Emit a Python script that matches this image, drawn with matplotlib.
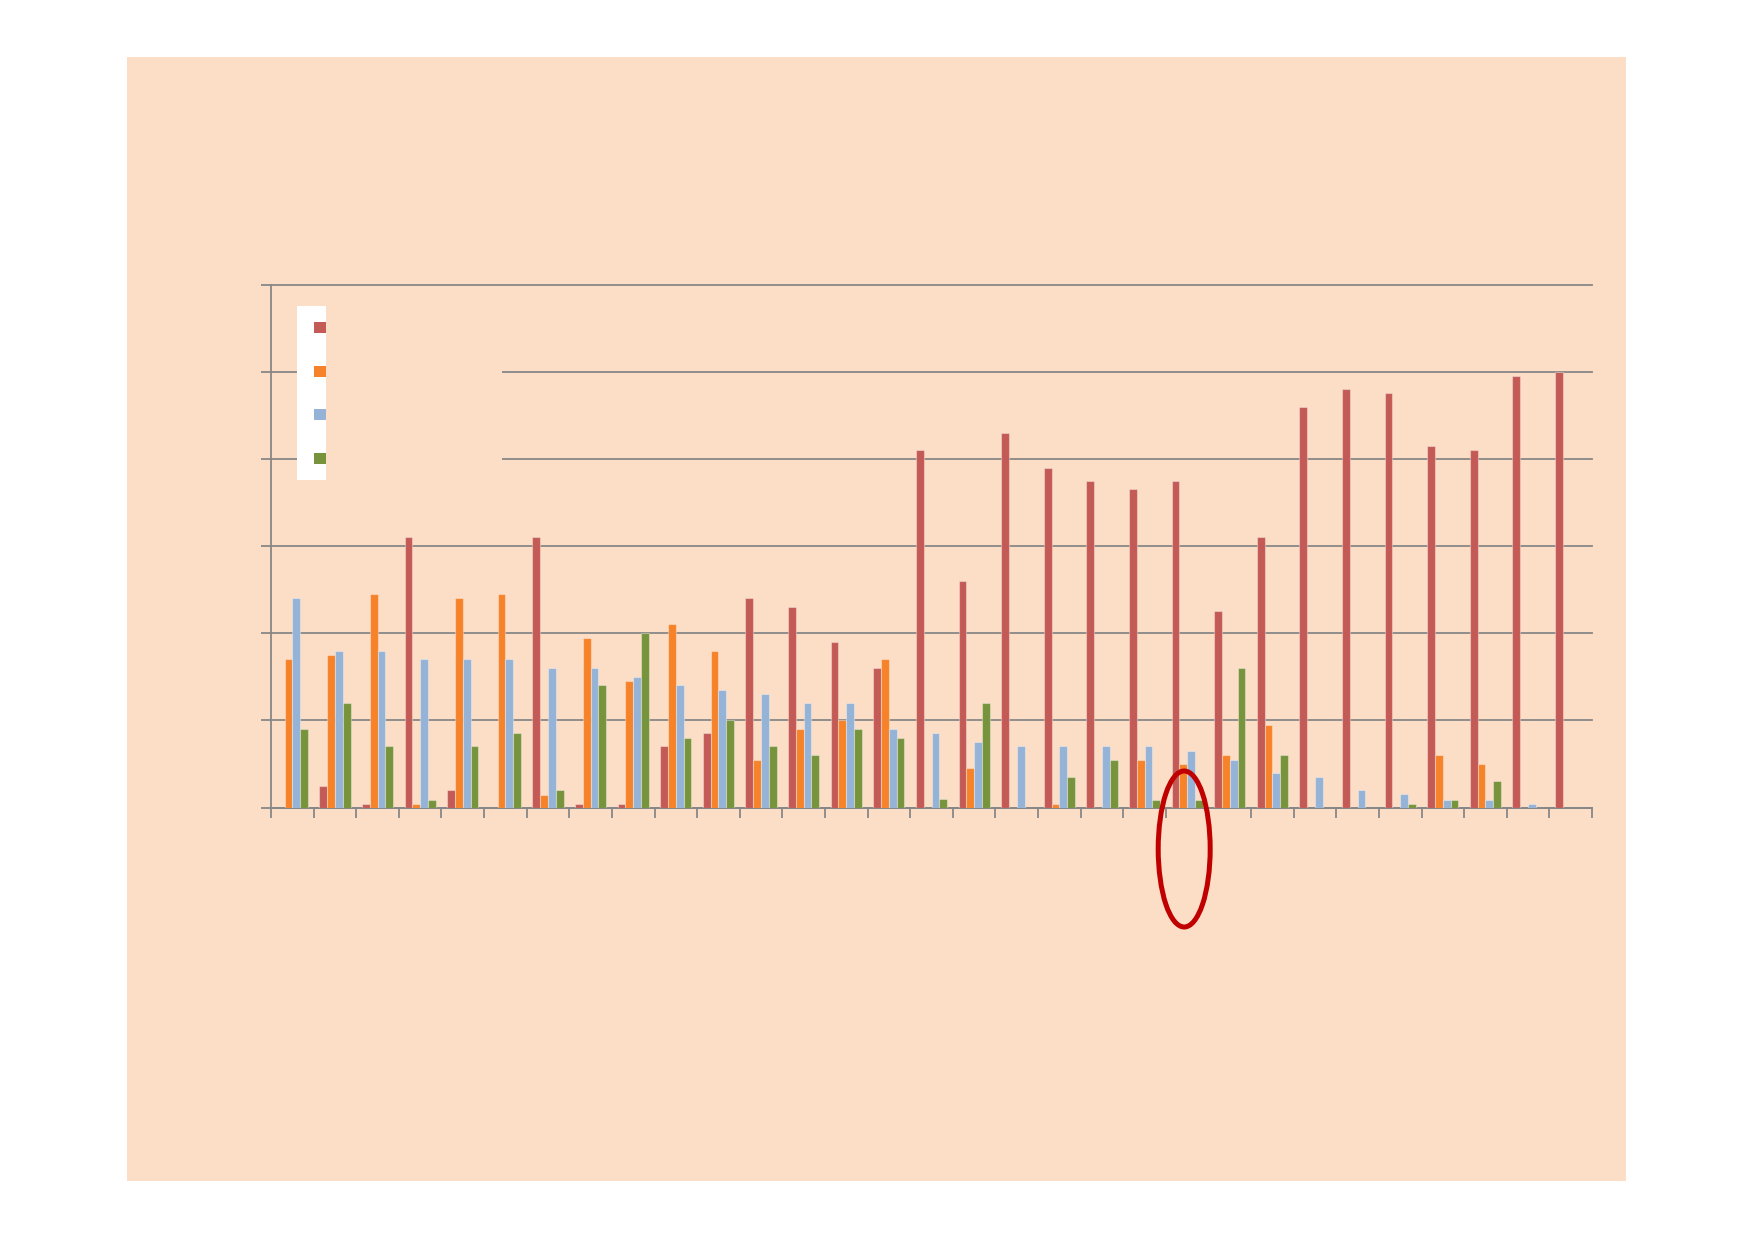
import numpy as np
import matplotlib
matplotlib.use('Agg')
import matplotlib.pyplot as plt
from matplotlib.patches import Rectangle, Ellipse

# 31 categories, 4 series
categories = list(range(1, 32))
red = [0, 0.25, 0.04, 3.10, 0.20, 0, 3.10, 0.04, 0.04, 0.70, 0.85, 2.40, 2.30, 1.90, 1.60,
       4.10, 2.60, 4.30, 3.90, 3.75, 3.65, 3.75, 2.25, 3.10, 4.60, 4.80, 4.75, 4.15, 4.10, 4.95, 5.00]
orange = [1.70, 1.75, 2.45, 0.04, 2.40, 2.45, 0.14, 1.95, 1.45, 2.10, 1.80, 0.55, 0.90, 1.00, 1.70,
          0, 0.45, 0, 0.04, 0, 0.55, 0.50, 0.60, 0.95, 0, 0, 0, 0.60, 0.50, 0, 0]
blue = [2.40, 1.80, 1.80, 1.70, 1.70, 1.70, 1.60, 1.60, 1.50, 1.40, 1.35, 1.30, 1.20, 1.20, 0.90,
        0.85, 0.75, 0.70, 0.70, 0.70, 0.70, 0.65, 0.55, 0.40, 0.35, 0.20, 0.15, 0.09, 0.09, 0.045, 0]
green = [0.90, 1.20, 0.70, 0.09, 0.70, 0.85, 0.20, 1.40, 2.00, 0.80, 1.00, 0.70, 0.60, 0.90, 0.80,
         0.10, 1.20, 0, 0.35, 0.55, 0.09, 0.09, 1.60, 0.60, 0, 0, 0.045, 0.09, 0.30, 0, 0]
series = [red, orange, blue, green]
colors = ['#C45A56', '#F6832A', '#95B3D7', '#77933C']
highlight = 22  # circled category

W, H = 1754, 1240
peach = '#FCDEC6'
grey = '#878787'

def fx(px):
    return px / W

def fy(py):
    return 1 - py / H

fig = plt.figure(figsize=(W / 100, H / 100), dpi=100, facecolor='white')
fig.add_artist(Rectangle((fx(127), fy(1181)), fx(1626) - fx(127), fy(57) - fy(1181),
                         transform=fig.transFigure, facecolor=peach, edgecolor='none', zorder=0))

ax = fig.add_axes([fx(271), fy(807.5), fx(1592) - fx(271), fy(284.5) - fy(807.5)])
ax.patch.set_alpha(0)

n = len(categories)
x = np.arange(n) + 0.5
w = 0.183
for k, (vals, c) in enumerate(zip(series, colors)):
    ax.bar(x + (k - 1.5) * w, vals, width=w, color=c, edgecolor=(1, 1, 1, 0.35),
           linewidth=0.8, zorder=3)

ax.set_xlim(0, n)
ax.set_ylim(0, 6)
ax.set_xticks(np.arange(n + 1))
ax.set_yticks(np.arange(7))
ax.set_xticklabels([])
ax.set_yticklabels([])
ax.tick_params(direction='out', length=7, width=1.3, color=grey)
ax.yaxis.grid(True, color=grey, linewidth=1.3)
for gl in ax.get_ygridlines():
    gl.set_clip_on(False)
ax.set_axisbelow(True)
for s in ['top', 'right']:
    ax.spines[s].set_visible(False)
for s in ['left', 'bottom']:
    ax.spines[s].set_color(grey)
    ax.spines[s].set_linewidth(1.3)

# legend box (mostly clipped in the original)
fig.add_artist(Rectangle((fx(297), fy(480)), fx(502) - fx(297), fy(306) - fy(480),
                         transform=fig.transFigure, facecolor=peach, edgecolor='none', zorder=4))
fig.add_artist(Rectangle((fx(297), fy(480)), fx(326) - fx(297), fy(306) - fy(480),
                         transform=fig.transFigure, facecolor='white', edgecolor='none', zorder=5))
for i, c in enumerate(colors):
    cy = 327.5 + i * 43.7
    fig.add_artist(Rectangle((fx(314), fy(cy + 5.5)), fx(326) - fx(314), fy(cy - 5.5) - fy(cy + 5.5),
                             transform=fig.transFigure, facecolor=c, edgecolor='none', zorder=6))

# red ellipse around the highlighted category
ax.add_patch(Ellipse((highlight - 0.57, -0.476), 1.22, 1.79, fill=False,
                     edgecolor='#C00000', linewidth=3.6, clip_on=False, zorder=7))

fig.savefig('out.png', dpi=100, facecolor='white')
